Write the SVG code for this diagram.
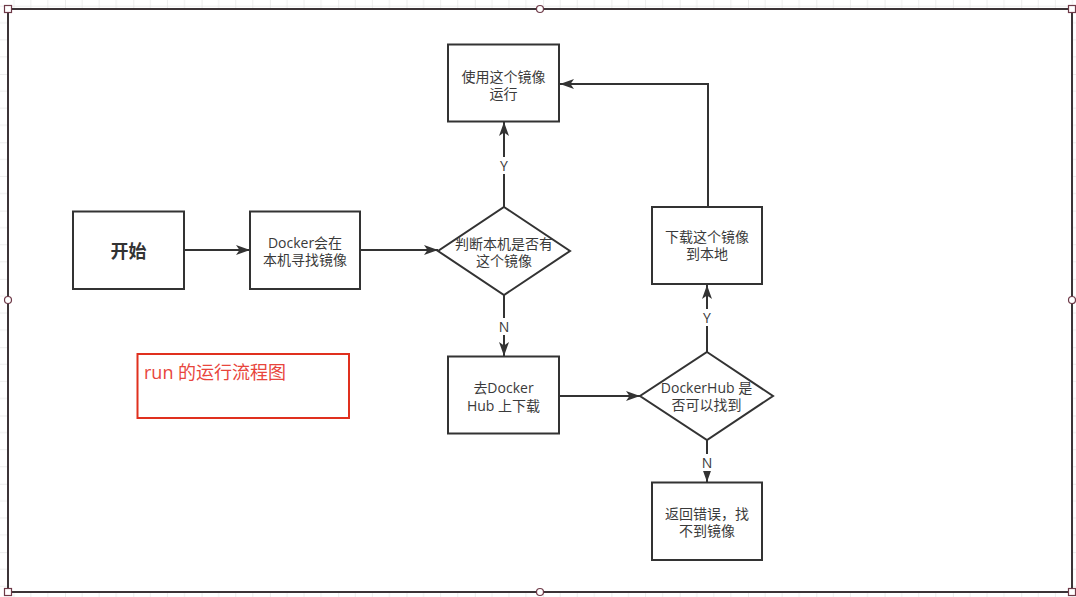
<svg xmlns="http://www.w3.org/2000/svg" width="1076" height="597" viewBox="0 0 1076 597">
  <defs>
    <pattern id="grid" x="-3.3" y="5.7" width="68.3" height="68.3" patternUnits="userSpaceOnUse">
      <path d="M0,0 V68.3 M17.08,0 V68.3 M34.16,0 V68.3 M51.24,0 V68.3 M0,0 H68.3 M0,17.08 H68.3 M0,34.16 H68.3 M0,51.24 H68.3" stroke="#eeeeee" stroke-width="1" fill="none"/>
      <path d="M0,0 V68.3 M0,0 H68.3" stroke="#e2e2e2" stroke-width="1" fill="none"/>
    </pattern>
    <marker id="arrow" markerUnits="userSpaceOnUse" markerWidth="14" markerHeight="10" refX="14" refY="5" orient="auto">
      <path d="M0,0 L14,5 L0,10 L3.5,5 Z" fill="#333333"/>
    </marker>
    <style>
      .node { fill: #ffffff; stroke: #333333; stroke-width: 2; }
      .txt { font-family: "Open Sans", "Noto Sans CJK SC", sans-serif; font-size: 14px; fill: #3a3a3a; text-anchor: middle; }
      .big { font-family: "Noto Sans CJK SC", sans-serif; font-size: 18px; font-weight: bold; fill: #333333; text-anchor: middle; }
      .edge { fill: none; stroke: #333333; stroke-width: 2; }
      .lbl { font-family: "Open Sans", "Noto Sans CJK SC", sans-serif; font-size: 14px; fill: #3a3a3a; text-anchor: middle; }
      .handle { fill: #ffffff; stroke: #6e3a48; stroke-width: 1.2; }
    </style>
  </defs>

  <rect x="0" y="0" width="1076" height="597" fill="#ffffff"/>
  <rect x="0" y="0" width="1076" height="597" fill="url(#grid)"/>
  <rect id="frame" x="8" y="9" width="1064" height="583" fill="#ffffff" stroke="#3c3437" stroke-width="2"/>

  <g id="connectors">
    <line class="edge" x1="185" y1="250" x2="250" y2="250" marker-end="url(#arrow)"/>
    <line class="edge" x1="361" y1="250" x2="438" y2="250" marker-end="url(#arrow)"/>
    <line class="edge" x1="504" y1="207" x2="504" y2="122" marker-end="url(#arrow)"/>
    <line class="edge" x1="504" y1="295" x2="504" y2="356" marker-end="url(#arrow)"/>
    <line class="edge" x1="560" y1="396" x2="640" y2="396" marker-end="url(#arrow)"/>
    <line class="edge" x1="707" y1="352" x2="707" y2="285" marker-end="url(#arrow)"/>
    <polyline class="edge" points="708,207 708,84 560,84" marker-end="url(#arrow)"/>
    <line class="edge" x1="707" y1="440" x2="707" y2="482" marker-end="url(#arrow)"/>
    <g id="edge-labels">
      <rect x="497" y="157" width="14" height="17" fill="#ffffff"/>
      <text class="lbl" x="504" y="171">Y</text>
      <rect x="497" y="318" width="14" height="17" fill="#ffffff"/>
      <text class="lbl" x="504" y="332">N</text>
      <rect x="700" y="309" width="14" height="17" fill="#ffffff"/>
      <text class="lbl" x="707" y="323">Y</text>
      <rect x="700" y="454" width="14" height="17" fill="#ffffff"/>
      <text class="lbl" x="707" y="468">N</text>
    </g>
  </g>

  <g id="start">
    <rect class="node" x="73" y="211.5" width="111" height="77.5"/>
    <text class="big" x="128.5" y="258">开始</text>
  </g>
  <g id="local-search">
    <rect class="node" x="250" y="211.5" width="110" height="77.5"/>
    <text class="txt" x="305" y="248">Docker会在</text>
    <text class="txt" x="305" y="265">本机寻找镜像</text>
  </g>
  <g id="decision-local">
    <polygon class="node" points="504,207 570,251 504,295 438,251"/>
    <text class="txt" x="504" y="249">判断本机是否有</text>
    <text class="txt" x="504" y="266">这个镜像</text>
  </g>
  <g id="run-image">
    <rect class="node" x="448" y="44.5" width="111" height="77"/>
    <text class="txt" x="503.5" y="82">使用这个镜像</text>
    <text class="txt" x="503.5" y="99">运行</text>
  </g>
  <g id="hub-download">
    <rect class="node" x="448" y="356.5" width="111" height="77"/>
    <text class="txt" x="503.5" y="393">去Docker</text>
    <text class="txt" x="503.5" y="410.5">Hub 上下载</text>
  </g>
  <g id="decision-hub">
    <polygon class="node" points="707,352 773,396 707,440 640,396"/>
    <text class="txt" x="706.5" y="393">DockerHub 是</text>
    <text class="txt" x="706.5" y="410">否可以找到</text>
  </g>
  <g id="download-local">
    <rect class="node" x="652" y="207" width="110" height="77"/>
    <text class="txt" x="707" y="242">下载这个镜像</text>
    <text class="txt" x="707" y="259">到本地</text>
  </g>
  <g id="error">
    <rect class="node" x="652" y="482.5" width="110" height="77.5"/>
    <text class="txt" x="707" y="519">返回错误，找</text>
    <text class="txt" x="707" y="536">不到镜像</text>
  </g>
  <g id="title-note">
    <rect x="137.5" y="354" width="211.5" height="64" fill="#ffffff" stroke="#e0301e" stroke-width="2"/>
    <text x="144" y="379" font-family="'Open Sans', 'Noto Sans CJK SC', sans-serif" font-size="18" fill="#e8453c">run 的运行流程图</text>
  </g>

  <g id="handles">
    <rect class="handle" x="4.5" y="5.5" width="7" height="7"/>
    <rect class="handle" x="1068.5" y="5.5" width="7" height="7"/>
    <rect class="handle" x="4.5" y="588.5" width="7" height="7"/>
    <rect class="handle" x="1068.5" y="588.5" width="7" height="7"/>
    <circle class="handle" cx="540" cy="9" r="3.5"/>
    <circle class="handle" cx="540" cy="592" r="3.5"/>
    <circle class="handle" cx="8" cy="300" r="3.5"/>
    <circle class="handle" cx="1072" cy="300" r="3.5"/>
  </g>
</svg>
